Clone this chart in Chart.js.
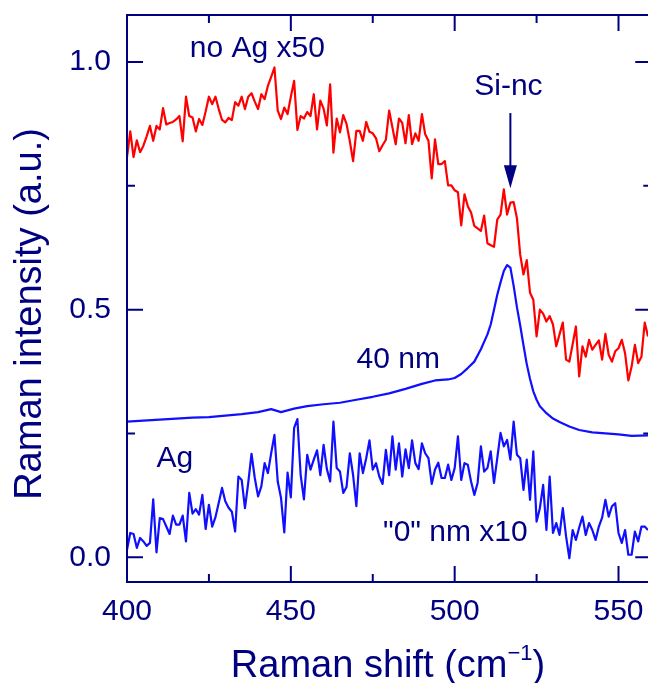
<!DOCTYPE html>
<html>
<head>
<meta charset="utf-8">
<title>Raman spectra</title>
<script src="https://cdn.jsdelivr.net/npm/chart.js@4.4.1/dist/chart.umd.min.js"></script>
<style>
  html, body { margin: 0; padding: 0; background: #fff; }
</style>
</head>
<body>
<canvas id="ramanChart" width="648" height="683"></canvas>
<script>
// Raman shift grid (cm-1) shared by the two noisy spectra
var shiftGrid = [];
for (var s = 400; s <= 559; s++) shiftGrid.push(s);

// "no Ag x50" spectrum (red)
var noAgX50 = [
  0.808, 0.860, 0.808, 0.842, 0.818, 0.831, 0.850, 0.871, 0.841, 0.871,
  0.864, 0.907, 0.874, 0.877, 0.879, 0.884, 0.891, 0.840, 0.930, 0.891,
  0.888, 0.860, 0.885, 0.873, 0.900, 0.930, 0.915, 0.930, 0.905, 0.883,
  0.878, 0.887, 0.883, 0.919, 0.912, 0.930, 0.905, 0.930, 0.937, 0.920,
  0.905, 0.935, 0.925, 0.952, 0.970, 0.989, 0.902, 0.885, 0.908, 0.895,
  0.930, 0.962, 0.863, 0.891, 0.886, 0.899, 0.891, 0.935, 0.864, 0.922,
  0.906, 0.872, 0.955, 0.817, 0.886, 0.858, 0.893, 0.875, 0.840, 0.800,
  0.861, 0.861, 0.841, 0.879, 0.859, 0.856, 0.846, 0.820, 0.832, 0.843,
  0.902, 0.868, 0.834, 0.886, 0.877, 0.836, 0.893, 0.834, 0.856, 0.841,
  0.895, 0.854, 0.841, 0.765, 0.844, 0.794, 0.794, 0.800, 0.751, 0.751,
  0.741, 0.737, 0.670, 0.733, 0.709, 0.696, 0.669, 0.664, 0.659, 0.690,
  0.634, 0.630, 0.627, 0.682, 0.692, 0.743, 0.692, 0.716, 0.717, 0.685,
  0.611, 0.571, 0.600, 0.534, 0.520, 0.446, 0.500, 0.492, 0.476, 0.487,
  0.470, 0.426, 0.450, 0.474, 0.399, 0.395, 0.430, 0.466, 0.365, 0.426,
  0.405, 0.439, 0.419, 0.429, 0.438, 0.399, 0.451, 0.409, 0.395, 0.416,
  0.422, 0.439, 0.412, 0.357, 0.385, 0.429, 0.392, 0.405, 0.474, 0.446
];

// "0" nm Ag x10 spectrum (blue, noisy)
var zeroNmX10 = [
  0.015, 0.049, 0.047, 0.019, 0.039, 0.032, 0.023, 0.029, 0.117, 0.010,
  0.079, 0.077, 0.062, 0.047, 0.084, 0.066, 0.066, 0.084, 0.032, 0.130,
  0.088, 0.097, 0.086, 0.126, 0.057, 0.106, 0.062, 0.081, 0.110, 0.140,
  0.113, 0.100, 0.092, 0.052, 0.163, 0.156, 0.099, 0.150, 0.209, 0.160,
  0.123, 0.143, 0.190, 0.170, 0.210, 0.247, 0.153, 0.120, 0.050, 0.171,
  0.121, 0.261, 0.279, 0.166, 0.117, 0.207, 0.177, 0.197, 0.216, 0.166,
  0.227, 0.178, 0.153, 0.274, 0.180, 0.173, 0.130, 0.142, 0.210, 0.166,
  0.103, 0.210, 0.170, 0.200, 0.236, 0.177, 0.190, 0.163, 0.148, 0.217,
  0.166, 0.244, 0.177, 0.230, 0.163, 0.218, 0.180, 0.236, 0.190, 0.178,
  0.230, 0.210, 0.200, 0.148, 0.177, 0.191, 0.160, 0.160, 0.187, 0.156,
  0.180, 0.244, 0.156, 0.190, 0.187, 0.153, 0.126, 0.150, 0.224, 0.173,
  0.180, 0.214, 0.150, 0.200, 0.251, 0.224, 0.237, 0.197, 0.274, 0.207,
  0.200, 0.136, 0.197, 0.116, 0.214, 0.072, 0.099, 0.146, 0.055, 0.163,
  0.049, 0.069, 0.045, 0.099, 0.042, -0.002, 0.055, 0.035, 0.060, 0.082,
  0.045, 0.069, 0.055, 0.035, 0.062, 0.080, 0.116, 0.082, 0.103, 0.109,
  0.049, 0.029, 0.055, 0.005, 0.005, 0.052, 0.032, 0.062, 0.062, 0.055
];

// 40 nm Ag spectrum (blue, smooth) has its own sampling
var shift40nm = [
  400, 405, 410, 415, 420, 425, 430, 435, 440, 444, 447, 451, 455, 460,
  465, 470, 475, 480, 485, 490, 494, 498, 500, 502, 504, 506, 508, 510,
  511, 512, 513, 514, 515, 516, 517, 518, 519, 520, 521, 522, 523, 524,
  525, 526, 528, 530, 532, 535, 538, 542, 546, 550, 554, 559
];
var ag40nm = [
  0.274, 0.276, 0.278, 0.280, 0.282, 0.283, 0.286, 0.289, 0.293, 0.299,
  0.293, 0.300, 0.305, 0.309, 0.312, 0.318, 0.324, 0.331, 0.340, 0.350,
  0.357, 0.359, 0.362, 0.370, 0.382, 0.395, 0.420, 0.450, 0.470, 0.500,
  0.530, 0.555, 0.578, 0.590, 0.585, 0.548, 0.505, 0.468, 0.428, 0.390,
  0.360, 0.335, 0.318, 0.305, 0.291, 0.280, 0.273, 0.264, 0.257, 0.252,
  0.250, 0.248, 0.245, 0.246
];

// axis ticks
var xLabelTicks = [400, 450, 500, 550];
var xMinorTicks = [425, 475, 525];
var yLabelTicks = [0, 0.5, 1.0];
var yMinorTicks = [0.25, 0.75];

// text labels placed in data units
var curveLabels = [
  { text: 'no Ag x50', x: 439.8, y: 1.010 },
  { text: 'Si-nc', x: 516.4, y: 0.933 },
  { text: '40 nm', x: 482.8, y: 0.382 },
  { text: 'Ag', x: 414.6, y: 0.183 },
  { text: '"0" nm x10', x: 500.2, y: 0.032 }
];
var peakArrow = { x: 517.0, from: 0.897, to: 0.745 };

var NAVY = '#000080';
var FONT = '"Liberation Sans", Arial, Helvetica, sans-serif';

function toPoints(xs, ys) {
  return xs.map(function (x, i) { return { x: x, y: ys[i] }; });
}

// box frame with inward ticks, arrow, curve labels and axis titles
var framePlugin = {
  id: 'frame',
  afterDraw: function (chart) {
    var ctx = chart.ctx;
    var area = chart.chartArea;
    var xs = chart.scales.x;
    var ys = chart.scales.y;
    var right = xs.getPixelForValue(560);
    var major = 16, minor = 8;

    ctx.save();
    ctx.strokeStyle = NAVY;
    ctx.lineWidth = 2;
    ctx.beginPath();
    ctx.moveTo(right, area.top);
    ctx.lineTo(area.left, area.top);
    ctx.lineTo(area.left, area.bottom);
    ctx.lineTo(right, area.bottom);
    ctx.lineTo(right, area.top);

    xLabelTicks.concat(xMinorTicks).forEach(function (v) {
      var len = xMinorTicks.indexOf(v) >= 0 ? minor : major;
      var px = xs.getPixelForValue(v);
      ctx.moveTo(px, area.bottom); ctx.lineTo(px, area.bottom - len);
      ctx.moveTo(px, area.top); ctx.lineTo(px, area.top + len);
    });
    yLabelTicks.concat(yMinorTicks).forEach(function (v) {
      var len = yMinorTicks.indexOf(v) >= 0 ? minor : major;
      var py = ys.getPixelForValue(v);
      ctx.moveTo(area.left, py); ctx.lineTo(area.left + len, py);
      ctx.moveTo(right, py); ctx.lineTo(right - len, py);
    });
    ctx.stroke();

    // Si-nc arrow
    var ax = xs.getPixelForValue(peakArrow.x);
    var ay0 = ys.getPixelForValue(peakArrow.from);
    var ay1 = ys.getPixelForValue(peakArrow.to);
    ctx.beginPath();
    ctx.moveTo(ax, ay0);
    ctx.lineTo(ax, ay1 - 18);
    ctx.stroke();
    ctx.fillStyle = NAVY;
    ctx.beginPath();
    ctx.moveTo(ax - 6.5, ay1 - 23);
    ctx.lineTo(ax + 6.5, ay1 - 23);
    ctx.lineTo(ax, ay1);
    ctx.closePath();
    ctx.fill();

    // curve labels
    ctx.font = '30px ' + FONT;
    ctx.textAlign = 'center';
    ctx.textBaseline = 'alphabetic';
    curveLabels.forEach(function (l) {
      ctx.fillText(l.text, xs.getPixelForValue(l.x), ys.getPixelForValue(l.y));
    });

    // x title with superscript
    var main = 'Raman shift (cm';
    var sup = '\u22121';
    ctx.font = '38px ' + FONT;
    var w1 = ctx.measureText(main).width;
    var w3 = ctx.measureText(')').width;
    ctx.font = '22px ' + FONT;
    var w2 = ctx.measureText(sup).width;
    var tx = 388 - (w1 + w2 + w3) / 2;
    var ty = 677;
    ctx.textAlign = 'left';
    ctx.font = '38px ' + FONT;
    ctx.fillText(main, tx, ty);
    ctx.font = '22px ' + FONT;
    ctx.fillText(sup, tx + w1, ty - 17);
    ctx.font = '38px ' + FONT;
    ctx.fillText(')', tx + w1 + w2, ty);

    // y title
    ctx.translate(41, 314);
    ctx.rotate(-Math.PI / 2);
    ctx.textAlign = 'center';
    ctx.fillText('Raman intensity (a.u.)', 0, 0);
    ctx.restore();
  }
};

var ctx = document.getElementById('ramanChart').getContext('2d');

var chart = new Chart(ctx, {
  type: 'line',
  data: {
    datasets: [{
      label: 'no Ag x50',
      data: toPoints(shiftGrid, noAgX50),
      borderColor: '#ff0000',
      borderWidth: 2.2
    },
    {
      label: '40 nm',
      data: toPoints(shift40nm, ag40nm),
      borderColor: '#1010ff',
      borderWidth: 2.2
    },
    {
      label: '"0" nm x10',
      data: toPoints(shiftGrid, zeroNmX10),
      borderColor: '#1010ff',
      borderWidth: 2.2
    }]
  },
  options: {
    responsive: false,
    animation: false,
    events: [],
    elements: {
      point: { radius: 0 },
      line: { tension: 0, borderJoinStyle: 'round' }
    },
    layout: { padding: { top: 15, right: 0, bottom: 0, left: 0 } },
    plugins: {
      legend: { display: false },
      tooltip: { enabled: false }
    },
    scales: {
      x: {
        type: 'linear',
        min: 400,
        max: 559,
        grid: { display: false, drawTicks: false },
        border: { display: false },
        afterBuildTicks: function (scale) {
          scale.ticks = xLabelTicks.map(function (v) { return { value: v }; });
        },
        afterFit: function (scale) {
          // keep the plot box edge to edge on the right
          scale.height = 101;
          scale.paddingLeft = 0;
          scale.paddingRight = 0;
        },
        ticks: {
          autoSkip: false,
          maxRotation: 0,
          padding: 12,
          color: NAVY,
          font: { family: FONT, size: 30 }
        }
      },
      y: {
        min: -0.05,
        max: 1.095,
        grid: { display: false, drawTicks: false },
        border: { display: false },
        afterBuildTicks: function (scale) {
          scale.ticks = yLabelTicks.map(function (v) { return { value: v }; });
        },
        afterFit: function (scale) {
          scale.width = 127;
          scale.paddingTop = 0;
          scale.paddingBottom = 0;
        },
        ticks: {
          padding: 16,
          color: NAVY,
          font: { family: FONT, size: 30 },
          callback: function (v) { return v.toFixed(1); }
        }
      }
    }
  },
  plugins: [framePlugin]
});
</script>
</body>
</html>
